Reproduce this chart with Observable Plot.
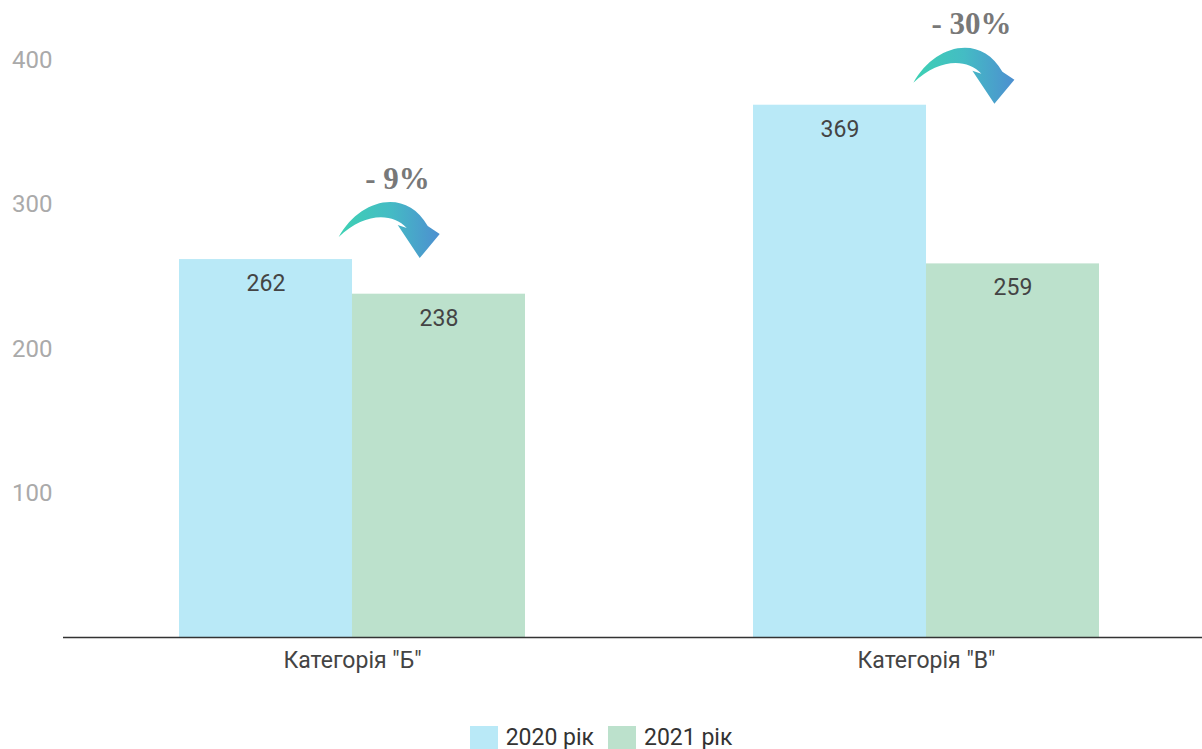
<!DOCTYPE html>
<html>
<head>
<meta charset="utf-8">
<script src="https://cdn.jsdelivr.net/npm/d3@7"></script>
<script src="https://cdn.jsdelivr.net/npm/@observablehq/plot@0.6"></script>
<style>
  html, body { margin: 0; padding: 0; background: #fff; }
  body { width: 1202px; height: 749px; overflow: hidden; font-family: Roboto, sans-serif; }
  #legend { display: flex; justify-content: center; align-items: center; gap: 14px; padding-top: 25px; font-size: 23px; color: #333; line-height: 26px; }
  #legend .item { display: flex; align-items: center; gap: 8px; }
  #legend .sw { width: 28px; height: 24px; display: inline-block; }
</style>
</head>
<body>
<div id="chart"></div>
<div id="legend"></div>
<script>
const categories = ['Категорія "Б"', 'Категорія "В"'];
const years = ["2020 рік", "2021 рік"];
const values2020 = [262, 369];
const values2021 = [238, 259];
const changeLabels = ["- 9%", "- 30%"];
const yTicks = [100, 200, 300, 400];
const colors = ["#b9e9f7", "#bce1cc"];

const W = 1202, H = 700, ML = 63, MR = 0, MT = 60, MB = 63;
const xOpts = {type: "band", domain: categories, paddingInner: 0.398, paddingOuter: 0.19, align: 0.53};
const yOpts = {type: "linear", domain: [0, 400]};
const xs = Plot.scale({x: {...xOpts, range: [ML, W - MR]}});
const ys = Plot.scale({y: {...yOpts, range: [H - MB, MT]}});
const half = xs.bandwidth / 2;

const d2020 = categories.map((c, i) => ({cat: c, value: values2020[i], year: years[0]}));
const d2021 = categories.map((c, i) => ({cat: c, value: values2021[i], year: years[1]}));
const dChange = categories.map((c, i) => ({cat: c, value: values2020[i], label: changeLabels[i]}));

function arrows() {
  const ns = "http://www.w3.org/2000/svg";
  const g = document.createElementNS(ns, "g");
  const defs = document.createElementNS(ns, "defs");
  const grad = document.createElementNS(ns, "linearGradient");
  grad.setAttribute("id", "arrowGrad");
  grad.setAttribute("x1", "0"); grad.setAttribute("x2", "1");
  grad.setAttribute("y1", "0"); grad.setAttribute("y2", "0");
  [["0%", "#3dd1b3"], ["50%", "#44bcc4"], ["100%", "#4d8fd0"]].forEach(([o, c]) => {
    const s = document.createElementNS(ns, "stop");
    s.setAttribute("offset", o); s.setAttribute("stop-color", c);
    grad.appendChild(s);
  });
  defs.appendChild(grad);
  g.appendChild(defs);
  dChange.forEach(d => {
    const cx = xs.apply(d.cat) + xs.bandwidth / 2;
    const cy = ys.apply(d.value);
    const p = document.createElementNS(ns, "path");
    p.setAttribute("d", "M-13,-22 C8,-60 54,-72 76,-33 L88,-25 L68,-1 L46,-34 L55,-31 C40,-47 12,-46 -13,-22 Z");
    p.setAttribute("transform", `translate(${cx},${cy})`);
    p.setAttribute("fill", "url(#arrowGrad)");
    g.appendChild(p);
  });
  return g;
}

const chart = Plot.plot({
  width: W, height: H,
  marginLeft: ML, marginRight: MR, marginTop: MT, marginBottom: MB,
  style: {fontFamily: "Roboto, sans-serif", background: "#fff", overflow: "visible"},
  x: {...xOpts, label: null},
  y: {...yOpts, label: null},
  marks: [
    Plot.barY(d2020, {x: "cat", y: "value", fill: colors[0], insetRight: half}),
    Plot.barY(d2021, {x: "cat", y: "value", fill: colors[1], insetLeft: half}),
    Plot.text(d2020, {x: "cat", y: "value", text: d => String(d.value), dx: -half / 2, dy: 24, fontSize: 23, fill: "#444", lineAnchor: "middle"}),
    Plot.text(d2021, {x: "cat", y: "value", text: d => String(d.value), dx: half / 2, dy: 24, fontSize: 23, fill: "#444", lineAnchor: "middle"}),
    Plot.axisY({ticks: yTicks, tickSize: 0, tickPadding: 11, fontSize: 24, color: "#aaa", label: null}),
    Plot.axisX({tickSize: 0, tickPadding: 14, fontSize: 23, color: "#444", label: null}),
    Plot.ruleY([0], {stroke: "#333", strokeWidth: 1.5}),
    arrows,
    Plot.text(dChange, {x: "cat", y: "value", text: "label", dx: 45, dy: -71, lineAnchor: "bottom",
      fontFamily: "'Liberation Serif', 'Times New Roman', serif", fontWeight: "bold", fontSize: 31, fill: "#787878"})
  ]
});
document.getElementById("chart").appendChild(chart);

const legend = document.getElementById("legend");
years.forEach((y, i) => {
  const item = document.createElement("div");
  item.className = "item";
  const sw = document.createElement("span");
  sw.className = "sw"; sw.style.background = colors[i];
  const t = document.createElement("span");
  t.textContent = y;
  item.appendChild(sw); item.appendChild(t);
  legend.appendChild(item);
});
</script>
</body>
</html>
